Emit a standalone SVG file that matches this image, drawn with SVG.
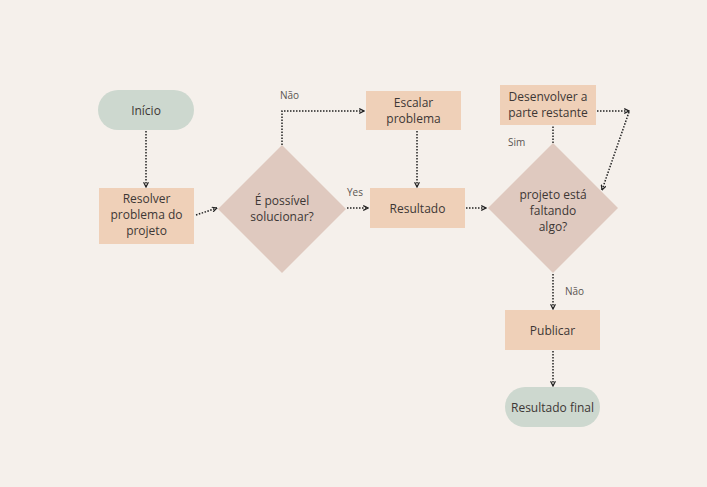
<svg xmlns="http://www.w3.org/2000/svg" width="707" height="487" viewBox="0 0 707 487">
<defs>
<marker id="ah" viewBox="0 0 10 10" refX="9" refY="5" markerWidth="6" markerHeight="6" markerUnits="userSpaceOnUse" orient="auto">
<path d="M1,1 L9,5 L1,9" fill="none" stroke="#222" stroke-width="2"/>
</marker>
<style>
.pill{fill:#cdd8cf}
.box{fill:#efd0b8}
.dia{fill:#dfc9bf}
.t{font-family:"Open Sans","Noto Sans",sans-serif;font-size:12px;fill:#3d3735;text-anchor:middle}
.l{font-family:"Open Sans","Noto Sans",sans-serif;font-size:10px;fill:#5a5552}
.c{fill:none;stroke:#222;stroke-width:1.5;stroke-dasharray:1.5 1.5;marker-end:url(#ah)}
.n{fill:none;stroke:#222;stroke-width:1.5;stroke-dasharray:1.5 1.5}
</style>
</defs>
<rect width="707" height="487" fill="#f5f0eb"/>
<g id="connectors">
<path class="c" d="M146,131 V187"/>
<path class="c" d="M196,215 L217,208"/>
<path class="c" d="M282,145 V111 H364"/>
<path class="c" d="M347,208 H368"/>
<path class="c" d="M417,131 V187"/>
<path class="c" d="M466,208 H486"/>
<path class="n" d="M553,143 V126"/>
<path class="c" d="M597,111 H629"/>
<path class="c" d="M629,112 L602,190"/>
<path class="c" d="M553,274 V309"/>
<path class="c" d="M553,351 V386"/>
<text class="l" x="280" y="99">Não</text>
<text class="l" x="347" y="196">Yes</text>
<text class="l" x="508" y="146">Sim</text>
<text class="l" x="565" y="295">Não</text>
</g>
<g id="inicio"><rect class="pill" x="98" y="90" width="96" height="40" rx="20"/><text class="t" x="146" y="114.5">Início</text></g>
<g id="resolver"><rect class="box" x="99" y="188" width="95" height="56"/><text class="t" x="146.5" y="203">Resolver</text><text class="t" x="146.5" y="219">problema do</text><text class="t" x="146.5" y="235">projeto</text></g>
<g id="possivel"><polygon class="dia" points="282,145 346,209 282,273 218,209"/><text class="t" x="282" y="205">É possível</text><text class="t" x="282" y="221">solucionar?</text></g>
<g id="escalar"><rect class="box" x="366" y="91" width="95" height="39"/><text class="t" x="413.5" y="106.5">Escalar</text><text class="t" x="413.5" y="122.5">problema</text></g>
<g id="resultado"><rect class="box" x="370" y="188" width="95" height="40"/><text class="t" x="417.5" y="212.5">Resultado</text></g>
<g id="faltando"><polygon class="dia" points="553,143 618,208 553,273 488,208"/><text class="t" x="553" y="199">projeto está</text><text class="t" x="553" y="215">faltando</text><text class="t" x="553" y="231">algo?</text></g>
<g id="desenvolver"><rect class="box" x="500" y="85" width="96" height="40"/><text class="t" x="548" y="100.5">Desenvolver a</text><text class="t" x="548" y="116.5">parte restante</text></g>
<g id="publicar"><rect class="box" x="505" y="310" width="95" height="40"/><text class="t" x="552.5" y="334.5">Publicar</text></g>
<g id="final"><rect class="pill" x="505" y="387" width="95" height="40" rx="20"/><text class="t" x="552.5" y="411.5">Resultado final</text></g>
</svg>
